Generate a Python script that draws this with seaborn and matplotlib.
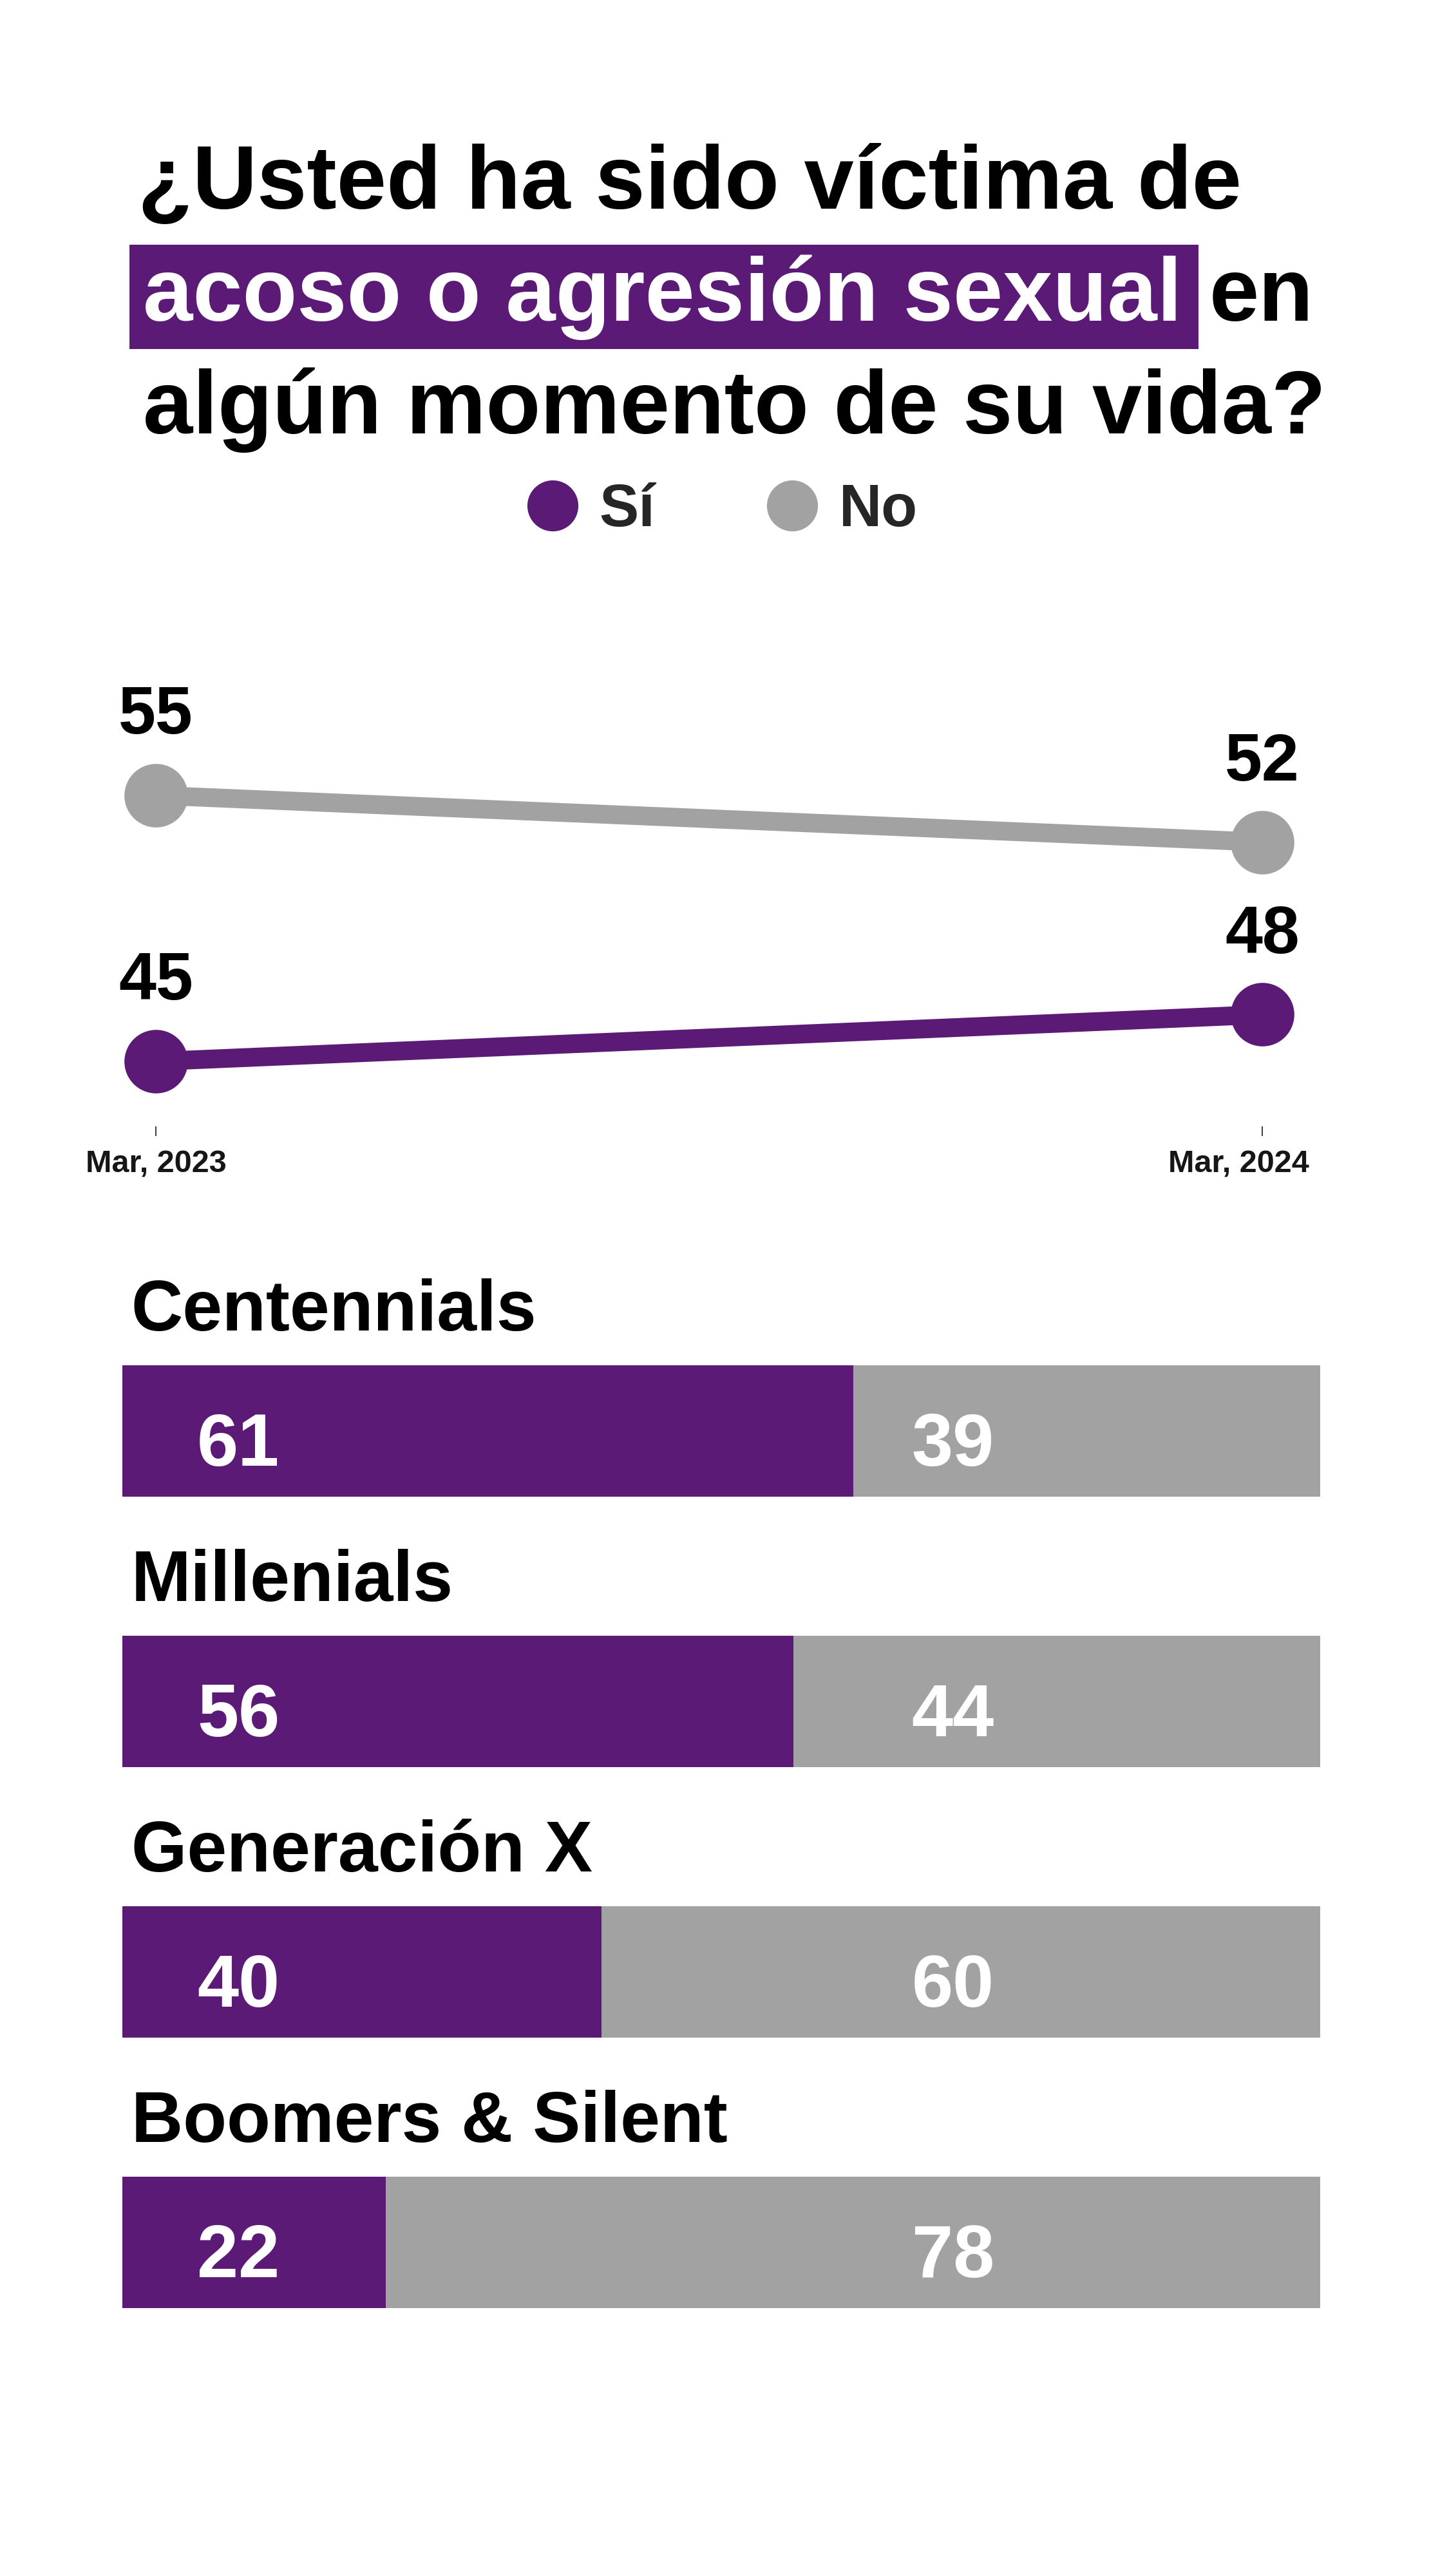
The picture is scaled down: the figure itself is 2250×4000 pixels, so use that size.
import matplotlib

matplotlib.use("Agg")

import matplotlib.pyplot as plt  # noqa: E402
import pandas as pd  # noqa: E402
import seaborn as sns  # noqa: E402
from matplotlib.lines import Line2D  # noqa: E402
from matplotlib.patches import Rectangle  # noqa: E402
from matplotlib.transforms import ScaledTranslation  # noqa: E402

# ------------------------------------------------------------------
#  Data
# ------------------------------------------------------------------
fechas = ["Mar, 2023", "Mar, 2024"]
si_linea = [45, 48]
no_linea = [55, 52]

generaciones = ["Centennials", "Millenials", "Generación X", "Boomers & Silent"]
si_gen = [61, 56, 40, 22]
no_gen = [39, 44, 60, 78]

PURPLE = "#5C1A77"
GRAY = "#A2A2A2"

W, H = 2250, 4000


def fx(px):
    return px / W


def fy(py):
    return 1 - py / H


sns.set_theme(style="white")
plt.rcParams["font.family"] = ["Liberation Sans", "DejaVu Sans"]
plt.rcParams["font.weight"] = "bold"

fig = plt.figure(figsize=(W / 100, H / 100), dpi=100, facecolor="white")

# ------------------------------------------------------------------
#  Title (with highlighted phrase)
# ------------------------------------------------------------------
TITLE_SIZE = 100
fig.text(fx(214), fy(324), "¿Usted ha sido víctima de", fontsize=TITLE_SIZE,
         fontweight="bold", va="baseline", color="black")
t2 = fig.text(fx(222), fy(498), "acoso o agresión sexual", fontsize=TITLE_SIZE,
              fontweight="bold", va="baseline", color="white", zorder=3)
fig.text(fx(222), fy(673), "algún momento de su vida?", fontsize=TITLE_SIZE,
         fontweight="bold", va="baseline", color="black")

renderer = fig.canvas.get_renderer()
ext = t2.get_window_extent(renderer)
box_x0, box_x1 = ext.x0 - 21, ext.x1 + 26
fig.add_artist(Rectangle((fx(box_x0), fy(542)), (box_x1 - box_x0) / W, 162 / H,
                         transform=fig.transFigure, color=PURPLE, zorder=2, lw=0))
fig.text(fx(box_x1 + 16), fy(498), "en", fontsize=TITLE_SIZE, fontweight="bold",
         va="baseline", color="black")

# ------------------------------------------------------------------
#  Legend
# ------------------------------------------------------------------
handles = [
    Line2D([], [], marker="o", ls="", ms=57, color=PURPLE, mew=0),
    Line2D([], [], marker="o", ls="", ms=57, color=GRAY, mew=0),
]
fig.legend(handles, ["Sí", "No"], loc="center", bbox_to_anchor=(fx(1123), fy(793)),
           ncol=2, frameon=False, prop={"size": 66, "weight": "bold"},
           handlelength=0.8, handletextpad=0.39, columnspacing=1.93)

# ------------------------------------------------------------------
#  Line chart (each answer on its own y scale, same px per point)
# ------------------------------------------------------------------
df_no = pd.DataFrame({"fecha": fechas, "valor": no_linea})
df_si = pd.DataFrame({"fecha": fechas, "valor": si_linea})

rect = [fx(150), fy(1749), (2100 - 150) / W, (1749 - 1000) / H]
ax_no = fig.add_axes(rect)
ax_si = ax_no.twinx()

for ax, df, color in [(ax_no, df_no, GRAY), (ax_si, df_si, PURPLE)]:
    sns.lineplot(data=df, x="fecha", y="valor", color=color, linewidth=21,
                 marker="o", markersize=71, markeredgewidth=0, sort=False, ax=ax)
    for line in ax.lines:
        line.set_linewidth(21)
        line.set_solid_capstyle("butt")
    for i, v in enumerate(df["valor"]):
        ax.annotate(str(v), (i, v), xytext=(0, 88), textcoords="offset points",
                    ha="center", va="center", fontsize=75, fontweight="bold",
                    color="black")
    ax.set_yticks([])
    ax.set_xlabel("")
    ax.set_ylabel("")
    for s in ax.spines.values():
        s.set_visible(False)

ax_no.set_ylim(33.76, 64.71)
ax_si.set_ylim(40.83, 71.78)
ax_no.set_xlim(-0.0536, 1.0815)
ax_no.set_xticks([0, 1])
ax_no.set_xticklabels(fechas, fontsize=35, fontweight="bold")
ax_no.tick_params(axis="x", bottom=True, length=11, width=1.5, color="#444444",
                  pad=15, labelcolor="#161616")
ax_si.tick_params(axis="x", bottom=False, labelbottom=False)
last = ax_no.get_xticklabels()[-1]
last.set_transform(last.get_transform() + ScaledTranslation(-0.37, 0, fig.dpi_scale_trans))
ax_no.set_facecolor("none")
ax_si.set_facecolor("none")

# ------------------------------------------------------------------
#  Stacked bars by generation
# ------------------------------------------------------------------
df_bar = pd.DataFrame({"generacion": generaciones, "Sí": si_gen, "No": no_gen})
df_bar["total"] = df_bar["Sí"] + df_bar["No"]

ax_bar = fig.add_axes([fx(190), fy(3800), (2050 - 190) / W, (3800 - 1800) / H])
sns.barplot(data=df_bar, x="total", y="generacion", color=GRAY, saturation=1,
            width=0.486, errorbar=None, linewidth=0, ax=ax_bar)
sns.barplot(data=df_bar, x="Sí", y="generacion", color=PURPLE, saturation=1,
            width=0.486, errorbar=None, linewidth=0, ax=ax_bar)

for i, row in df_bar.iterrows():
    ax_bar.text(0.75, i - 0.371, row["generacion"], fontsize=80, fontweight="bold",
                va="baseline", ha="left", color="black")
    ax_bar.text(6.24, i + 0.129, str(row["Sí"]), fontsize=83, fontweight="bold",
                va="baseline", ha="left", color="white")
    ax_bar.text(65.9, i + 0.129, str(row["No"]), fontsize=83, fontweight="bold",
                va="baseline", ha="left", color="white")

ax_bar.set_xlim(0, 100)
ax_bar.set_ylim(3.757, -1.005)
ax_bar.axis("off")

fig.savefig("out.png", dpi=100, facecolor="white")
